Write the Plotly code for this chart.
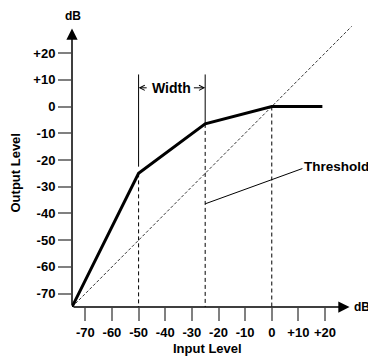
import plotly.graph_objects as go

# compressor transfer curve (input dB -> output dB)
curve_in = [-75, -50, -25, 0, 19]
curve_out = [-75, -25, -6.5, 0, 0]

# unity (1:1) reference line
unity_in = [-75, 30]
unity_out = [-75, 30]

# knee markers
knee_in = [-50, -25, 0]
knee_out = [-25, -6.5, 0]
width_top = 12

tick_vals = [-70, -60, -50, -40, -30, -20, -10, 0, 10, 20]
tick_text = ["-70", "-60", "-50", "-40", "-30", "-20", "-10", "0", "+10", "+20"]

FONT = "Liberation Sans, Arial, Helvetica, sans-serif"
AXIS_MIN = -75
AXIS_TIP = 29.2

fig = go.Figure()

# unity line
fig.add_trace(go.Scatter(
    x=unity_in, y=unity_out, mode="lines",
    line=dict(color="black", width=0.8, dash="3px,2px"),
    hoverinfo="skip"
))

# dashed drop lines from knees to the input axis
for xi, yo in zip(knee_in, knee_out):
    fig.add_trace(go.Scatter(
        x=[xi, xi], y=[yo, AXIS_MIN], mode="lines",
        line=dict(color="black", width=1, dash="4px,3px"),
        hoverinfo="skip"
    ))

# solid width markers above the two knees
fig.add_trace(go.Scatter(
    x=[knee_in[0], knee_in[0]], y=[width_top, knee_out[0] + 2.5], mode="lines",
    line=dict(color="black", width=1), hoverinfo="skip"
))
fig.add_trace(go.Scatter(
    x=[knee_in[1], knee_in[1]], y=[width_top, knee_out[1]], mode="lines",
    line=dict(color="black", width=1), hoverinfo="skip"
))

# threshold leader
fig.add_trace(go.Scatter(
    x=[-25, 11.5], y=[-36.4, -23.2], mode="lines",
    line=dict(color="black", width=1), hoverinfo="skip"
))

# transfer curve
fig.add_trace(go.Scatter(
    x=curve_in, y=curve_out, mode="lines",
    line=dict(color="black", width=3), hoverinfo="skip"
))

annotations = [
    # axis lines with arrowheads
    dict(x=AXIS_TIP, y=AXIS_MIN, ax=AXIS_MIN, ay=AXIS_MIN, xref="x", yref="y",
         axref="x", ayref="y", text="", showarrow=True, arrowhead=2,
         arrowsize=1.5, arrowwidth=1.5, arrowcolor="black"),
    dict(x=AXIS_MIN, y=AXIS_TIP, ax=AXIS_MIN, ay=AXIS_MIN, xref="x", yref="y",
         axref="x", ayref="y", text="", showarrow=True, arrowhead=2,
         arrowsize=1.5, arrowwidth=1.5, arrowcolor="black"),
    # width arrows
    dict(x=-50, y=7, ax=-46.4, ay=7, xref="x", yref="y", axref="x", ayref="y",
         text="", showarrow=True, arrowhead=5, arrowsize=1, arrowwidth=1,
         arrowcolor="black"),
    dict(x=-25, y=7, ax=-29.8, ay=7, xref="x", yref="y", axref="x", ayref="y",
         text="", showarrow=True, arrowhead=5, arrowsize=1, arrowwidth=1,
         arrowcolor="black"),
    dict(x=-37.8, y=7, xref="x", yref="y", text="Width", showarrow=False,
         xanchor="center", yanchor="middle", font=dict(size=14)),
    dict(x=0.806, y=0.4906, xref="paper", yref="paper", text="Threshold",
         showarrow=False, xanchor="left", yanchor="middle", font=dict(size=13.5)),
    dict(x=1.016, y=0.0, xref="paper", yref="paper", text="dB", showarrow=False,
         xanchor="center", yanchor="middle", font=dict(size=12)),
    dict(x=0.0018, y=1.0175, xref="paper", yref="paper", text="dB", showarrow=False,
         xanchor="center", yanchor="middle", font=dict(size=12)),
    dict(x=0.4737, y=-0.1434, xref="paper", yref="paper", text="Input Level",
         showarrow=False, xanchor="center", yanchor="middle", font=dict(size=13)),
    dict(x=-0.2, y=0.4668, xref="paper", yref="paper", text="Output Level",
         showarrow=False, textangle=-90, xanchor="center", yanchor="middle",
         font=dict(size=13)),
]

axis_common = dict(
    tickvals=tick_vals, ticktext=tick_text,
    ticks="outside", ticklen=13, tickwidth=2, tickcolor="#808080",
    showgrid=False, zeroline=False, showline=False, automargin=False,
    tickfont=dict(size=13, color="black", family=FONT, weight="bold"),
    range=[-75, 32], fixedrange=True,
)

# page body has an 8px margin, so the figure is sized to fit the window
fig.update_layout(
    width=368, height=348,
    margin=dict(l=64, r=19, t=13, b=49, autoexpand=False),
    paper_bgcolor="white", plot_bgcolor="white",
    showlegend=False,
    font=dict(family=FONT, color="black", weight="bold"),
    xaxis=axis_common,
    yaxis=axis_common,
    annotations=annotations,
)

fig.write_html("out.html")
